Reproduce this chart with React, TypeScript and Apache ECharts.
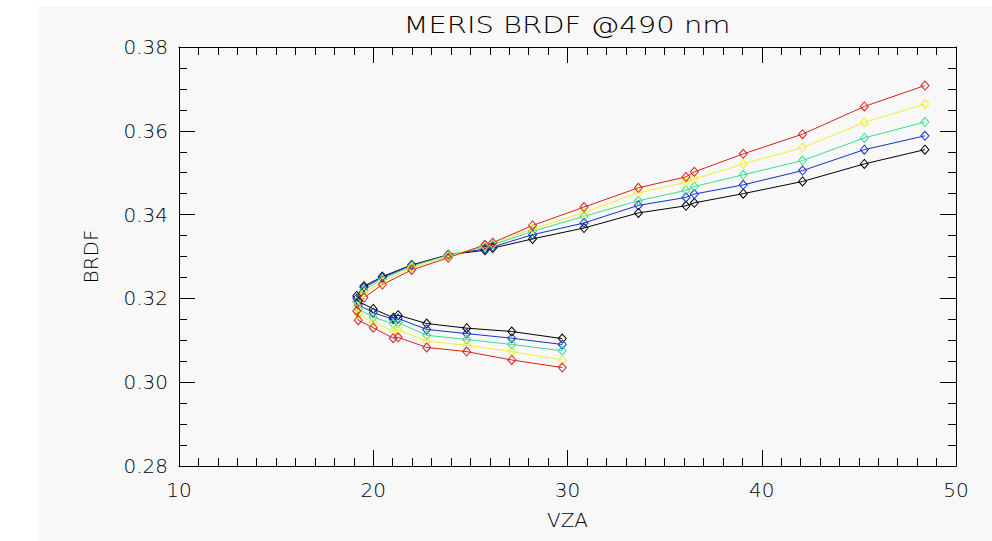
import React, { useEffect, useRef } from "react";
import * as echarts from "echarts";

const titleText = "MERIS BRDF @490 nm";
const xName = "VZA";
const yName = "BRDF";

// viewing zenith angle (shared by all curves), ordered along the curve
const vza = [29.73, 27.13, 24.81, 22.75, 21.28, 21.03, 20.0, 19.23, 19.15, 19.52, 20.47, 21.98, 23.86, 25.75, 26.15, 28.2, 30.85, 33.65, 36.1, 36.53, 39.05, 42.1, 45.28, 48.4];

const brdfBlack = [0.3104, 0.3121, 0.3129, 0.314, 0.316, 0.3154, 0.3175, 0.3193, 0.3206, 0.3229, 0.3252, 0.328, 0.3304, 0.3315, 0.332, 0.3342, 0.3368, 0.3404, 0.3421, 0.3428, 0.345, 0.3479, 0.3521, 0.3555];
const brdfBlue = [0.309, 0.3105, 0.3116, 0.3126, 0.3152, 0.315, 0.3166, 0.3185, 0.32, 0.3226, 0.325, 0.3279, 0.3304, 0.3318, 0.3323, 0.3352, 0.338, 0.3422, 0.3441, 0.3449, 0.3471, 0.3505, 0.3555, 0.3588];
const brdfGreen = [0.3075, 0.309, 0.3102, 0.3112, 0.3142, 0.314, 0.3155, 0.3175, 0.3192, 0.322, 0.3246, 0.3277, 0.3303, 0.3323, 0.3328, 0.336, 0.3396, 0.3433, 0.3458, 0.3467, 0.3495, 0.3529, 0.3583, 0.3621];
const brdfYellow = [0.3053, 0.3073, 0.3088, 0.3098, 0.3125, 0.3122, 0.3143, 0.3162, 0.3182, 0.3212, 0.324, 0.3273, 0.33, 0.3326, 0.3331, 0.3366, 0.3405, 0.3452, 0.3477, 0.3485, 0.3521, 0.356, 0.362, 0.3664];
const brdfRed = [0.3035, 0.3053, 0.3073, 0.3083, 0.3107, 0.3105, 0.313, 0.3148, 0.317, 0.3202, 0.3233, 0.3268, 0.3297, 0.3328, 0.3333, 0.3374, 0.3418, 0.3464, 0.349, 0.3502, 0.3545, 0.3592, 0.3658, 0.3708];

const curves = [
  { name: "black", values: brdfBlack, color: "#000000" },
  { name: "blue", values: brdfBlue, color: "#1530c8" },
  { name: "green", values: brdfGreen, color: "#3ddc88" },
  { name: "yellow", values: brdfYellow, color: "#f2ee30" },
  { name: "red", values: brdfRed, color: "#dc1e1e" },
];

const FONT = "DejaVu Sans";

export default function App() {
  const ref = useRef<HTMLDivElement>(null);
  useEffect(() => {
    const chart = echarts.init(ref.current!, null, { renderer: "svg" });
    const axisCommon = {
      axisLine: { show: true, onZero: false, lineStyle: { color: "#000", width: 1 } },
      splitLine: { show: false },
    };
    const xBase = {
      type: "value" as const,
      min: 10,
      max: 50,
      interval: 10,
      ...axisCommon,
      axisTick: { show: true, inside: true, length: 16, lineStyle: { color: "#000" } },
      minorTick: { show: true, splitNumber: 10, length: 8, lineStyle: { color: "#000" } },
    };
    const yBase = {
      type: "value" as const,
      min: 0.28,
      max: 0.38,
      interval: 0.02,
      ...axisCommon,
      axisTick: { show: true, inside: true, length: 16, lineStyle: { color: "#000" } },
      minorTick: { show: true, splitNumber: 4, length: 8, lineStyle: { color: "#000" } },
    };
    chart.setOption({
      animation: false,
      backgroundColor: "#ffffff",
      graphic: [
        {
          type: "rect",
          shape: { x: 38, y: 7, width: 954, height: 534 },
          style: { fill: "#f8f8f8" },
          z: -10,
          silent: true,
        },
        {
          type: "text",
          x: 567,
          y: 25,
          scaleX: 1.26,
          style: {
            text: titleText,
            fontFamily: FONT,
            fontWeight: 200,
            fontSize: 23,
            fill: "#000",
            align: "center",
            verticalAlign: "middle",
          },
        },
      ],
      grid: { left: 179, right: 36, top: 47, bottom: 75, show: false },
      xAxis: [
        {
          ...xBase,
          position: "bottom",
          name: xName,
          nameLocation: "middle",
          nameGap: 44,
          nameTextStyle: { fontFamily: FONT, fontWeight: 200, fontSize: 20, color: "#000" },
          axisLabel: { show: true, margin: 14, fontFamily: FONT, fontWeight: 200, fontSize: 20, color: "#000" },
        },
        { ...xBase, position: "top", axisLabel: { show: false } },
      ],
      yAxis: [
        {
          ...yBase,
          position: "left",
          name: yName,
          nameLocation: "middle",
          nameGap: 78,
          nameTextStyle: { fontFamily: FONT, fontWeight: 200, fontSize: 20, color: "#000" },
          axisLabel: {
            show: true,
            margin: 11,
            fontFamily: FONT,
            fontWeight: 200,
            fontSize: 20,
            color: "#000",
            formatter: (v: number) => v.toFixed(2),
          },
        },
        { ...yBase, position: "right", axisLabel: { show: false } },
      ],
      series: curves.map((c) => ({
        type: "line",
        name: c.name,
        xAxisIndex: 0,
        yAxisIndex: 0,
        data: vza.map((x, i) => [x, c.values[i]]),
        symbol: "diamond",
        symbolSize: [8, 9],
        showAllSymbol: true,
        lineStyle: { color: c.color, width: 1 },
        itemStyle: { color: "rgba(255,255,255,0)", borderColor: c.color, borderWidth: 1 },
        emphasis: { disabled: true },
      })),
    });
    return () => chart.dispose();
  }, []);
  return (
    <div
      ref={ref}
      style={{ position: "fixed", left: 0, top: 0, width: 992, height: 541 }}
    />
  );
}
